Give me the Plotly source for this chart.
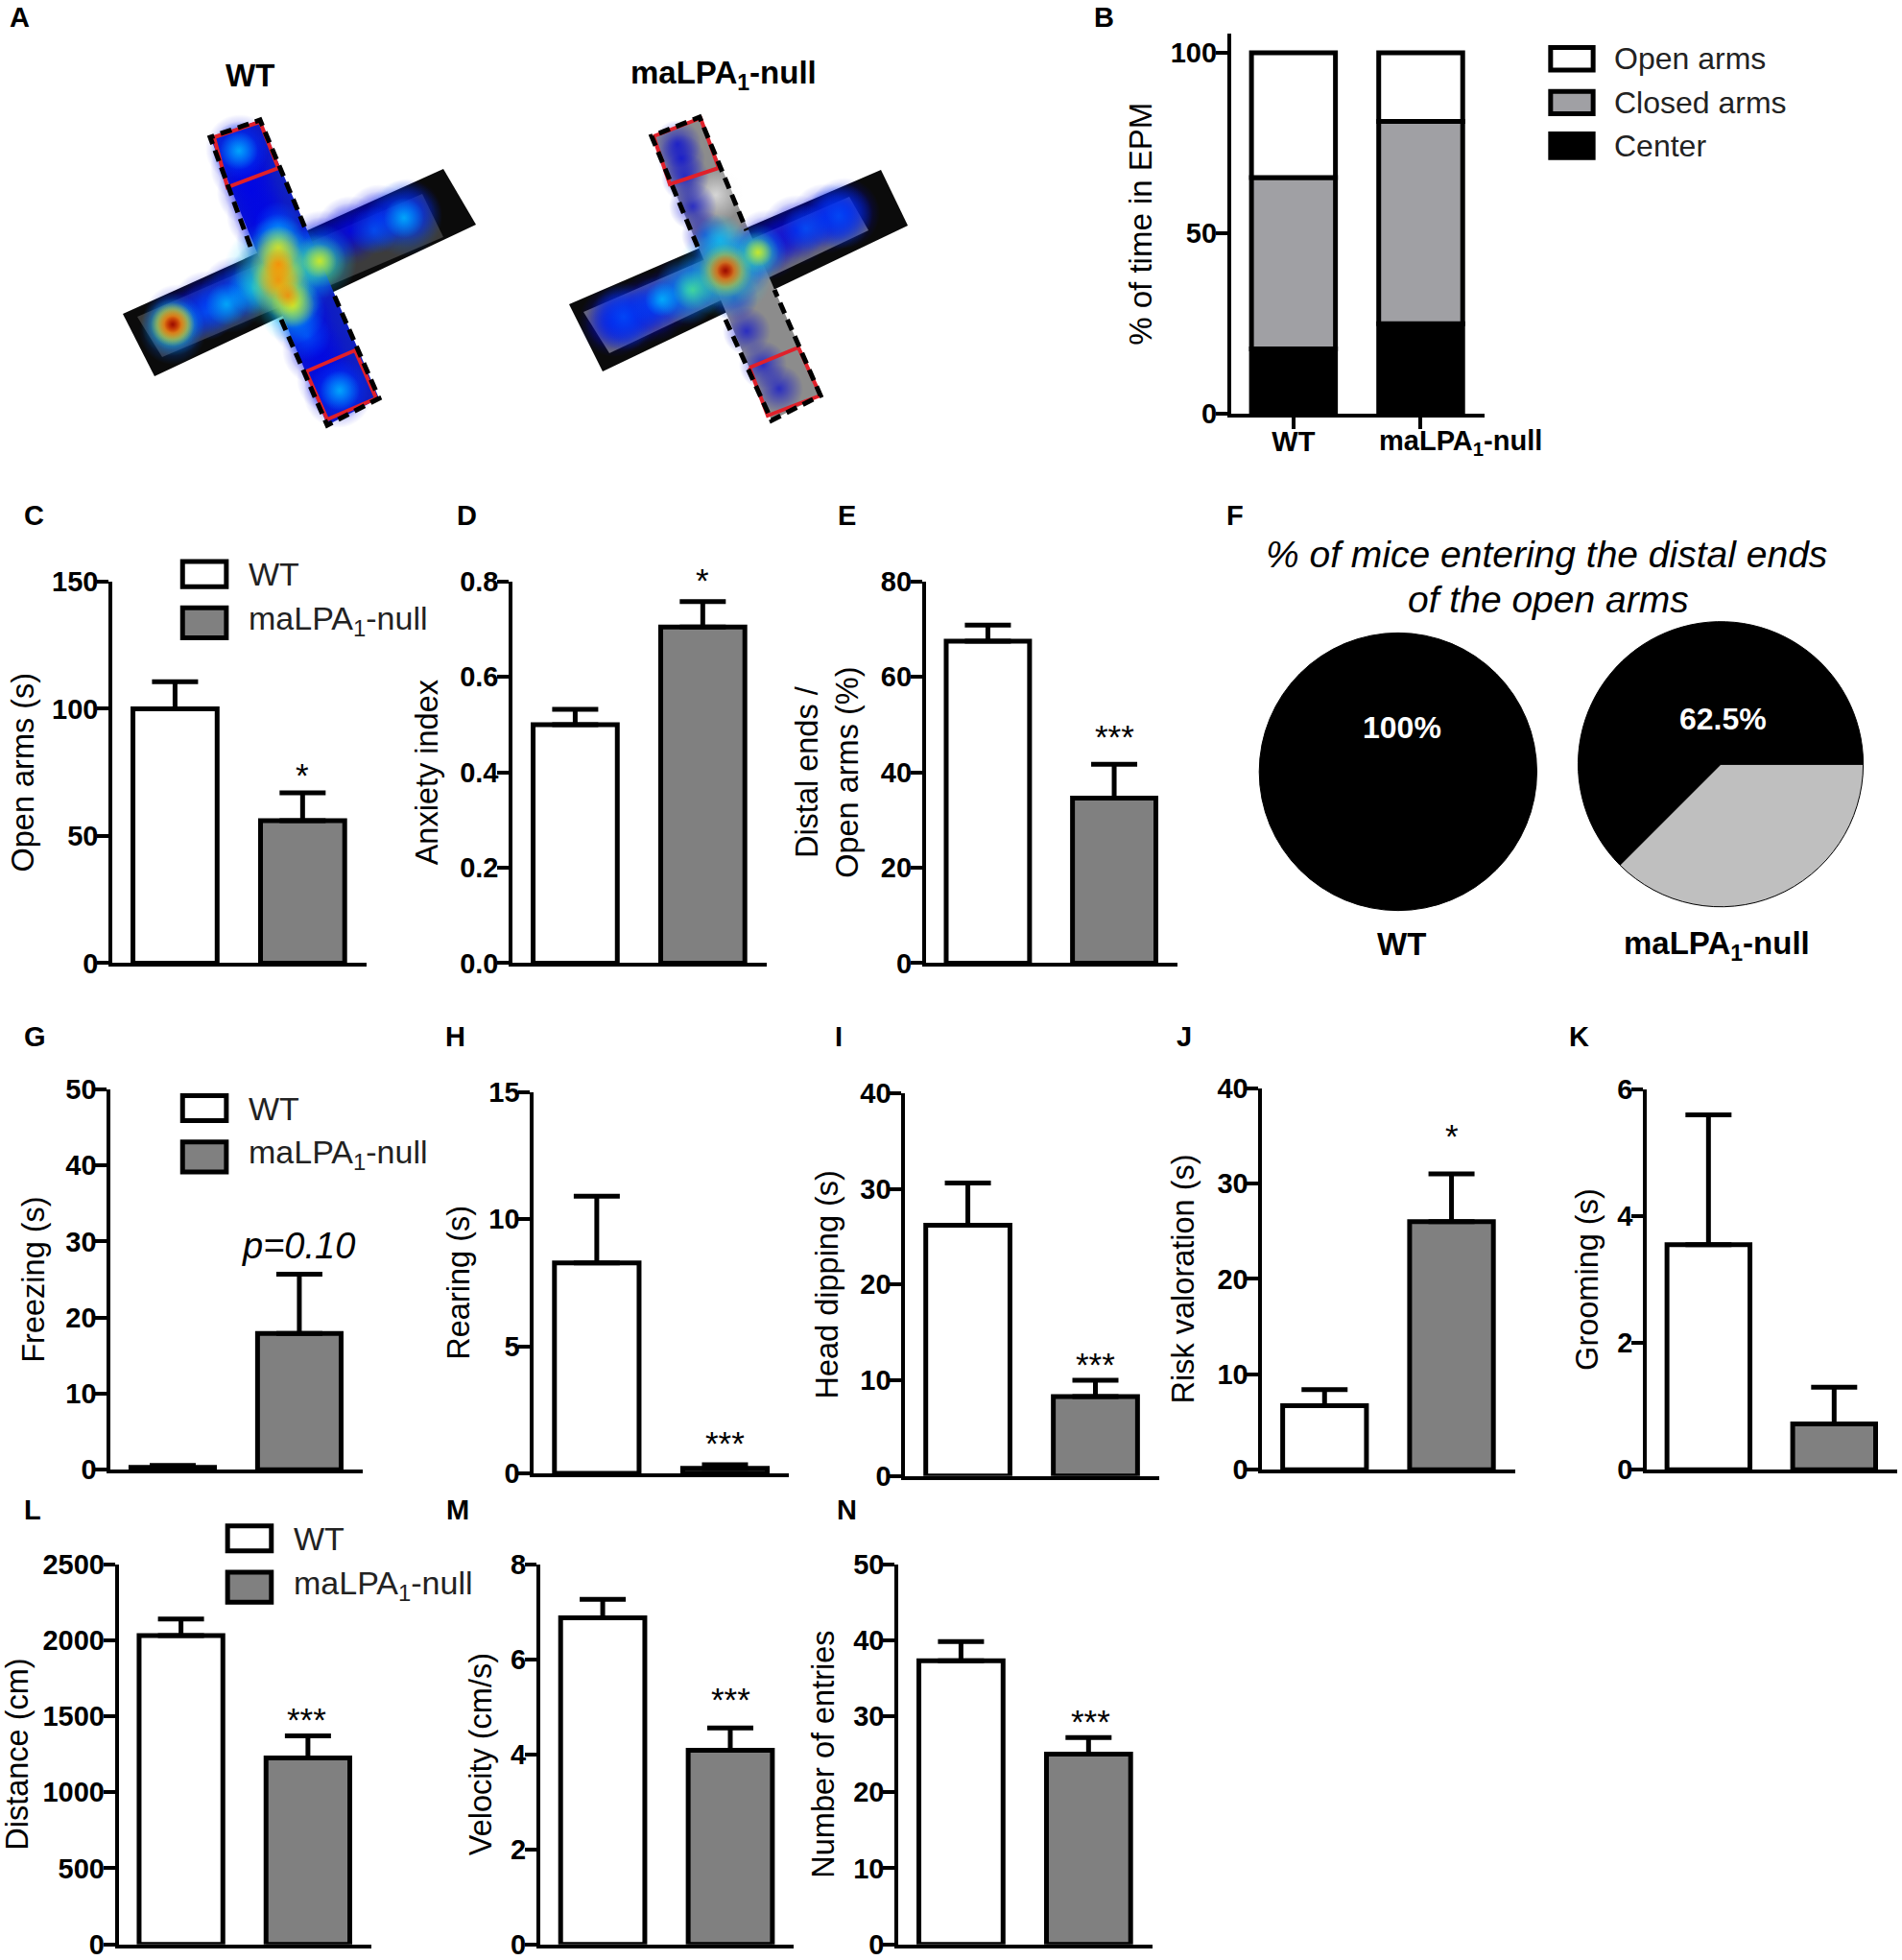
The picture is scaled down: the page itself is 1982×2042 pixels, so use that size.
import plotly.graph_objects as go

W, H = 1982, 2042
S = 1982 / 1521  # overview reading scale
FONT = "Liberation Sans"
GROUPS = ["WT", "maLPA<sub>1</sub>-null"]
NULL_LABEL = "maLPA<sub>1</sub>-null"

# ---------- data ----------
B_center = [18, 25]
B_closed = [47.5, 56]
B_open = [34.5, 19]

C_values = [100, 56]
C_errors = [10.6, 10.9]
C_ticks = [0, 50, 100, 150]
D_values = [0.5, 0.705]
D_errors = [0.032, 0.053]
D_ticks = [0.0, 0.2, 0.4, 0.6, 0.8]
E_values = [67.5, 34.6]
E_errors = [3.4, 7.1]
E_ticks = [0, 20, 40, 60, 80]
G_values = [0.3, 17.9]
G_errors = [0.25, 7.8]
G_ticks = [0, 10, 20, 30, 40, 50]
H_values = [8.28, 0.2]
H_errors = [2.62, 0.14]
H_ticks = [0, 5, 10, 15]
I_values = [26.2, 8.3]
I_errors = [4.4, 1.7]
I_ticks = [0, 10, 20, 30, 40]
J_values = [6.7, 26]
J_errors = [1.7, 5]
J_ticks = [0, 10, 20, 30, 40]
K_values = [3.55, 0.72]
K_errors = [2.05, 0.58]
K_ticks = [0, 2, 4, 6]
L_values = [2030, 1225]
L_errors = [108, 145]
L_ticks = [0, 500, 1000, 1500, 2000, 2500]
M_values = [6.87, 4.08]
M_errors = [0.39, 0.47]
M_ticks = [0, 2, 4, 6, 8]
N_values = [37.3, 25]
N_errors = [2.5, 2.2]
N_ticks = [0, 10, 20, 30, 40, 50]

F_wt = [100]
F_null = [37.5, 62.5]

# Panel A illustration, page pixels
WT_closed_outer = [(128, 327), (161, 392), (496, 234), (462, 176)]
WT_closed_floor = [(143, 330), (169, 372), (462, 247), (440, 202)]
WT_open = [(219, 143), (271, 125), (395, 415), (341, 443)]
WT_box_top = [(223, 143), (237, 195), (290, 175), (271, 127)]
WT_box_bot = [(319, 387), (341, 437), (392, 415), (370, 365)]
WT_dash = [[(261, 257), (219, 143), (271, 125), (319, 240)], [(293, 333), (341, 443), (395, 415), (348, 307)]]
WT_blue = [(185, 332), (215, 318), (245, 303), (275, 288), (305, 270), (335, 255), (365, 240), (395, 228), (425, 222),
           (250, 155), (255, 175), (262, 200), (272, 225), (282, 250), (292, 275), (305, 305), (318, 335), (330, 365), (345, 395), (352, 410)]
WT_mid = [(249, 157, 60), (354, 405, 62), (421, 227, 80), (390, 240, 50), (215, 325, 60), (240, 312, 70), (180, 345, 70), (290, 235, 50), (320, 350, 50)]
WT_cyan = [(249, 157, 40), (354, 407, 42), (421, 227, 42), (180, 338, 66), (236, 317, 44), (265, 300, 55), (290, 250, 55), (333, 272, 78), (305, 325, 68), (290, 285, 115)]
WT_green = [(290, 283, 92), (333, 272, 56), (305, 315, 56), (180, 338, 54)]
WT_yellow = [(290, 258, 46), (290, 278, 60), (292, 298, 62), (305, 318, 46), (333, 272, 36), (180, 338, 46), (180, 338, 46)]
WT_orange = [(290, 275, 34), (290, 292, 44), (300, 308, 26), (180, 338, 40)]
WT_red = [(180, 338, 32)]
WT_dark = [(180, 338, 18)]

NU_closed_outer = [(593, 317), (628, 387), (946, 235), (918, 177)]
NU_closed_floor = [(608, 325), (635, 368), (905, 240), (885, 205)]
NU_open = [(679, 142), (729, 122), (855, 412), (804, 438)]
NU_box_top = [(681, 142), (698, 192), (749, 175), (730, 123)]
NU_box_bot = [(781, 383), (800, 433), (855, 412), (832, 362)]
NU_dash = [[(727, 257), (679, 142), (729, 122), (778, 240)], [(756, 333), (804, 438), (855, 412), (807, 302)]]
NU_patch = [(746, 203, 58)]
NU_blue_closed = [(640, 335), (655, 330), (680, 320), (710, 305), (740, 290), (770, 275), (800, 255), (830, 240), (860, 228), (880, 222)]
NU_blue_open = [(706, 150), (710, 165), (714, 185), (722, 215), (735, 245), (748, 270), (765, 310), (778, 345), (795, 380), (812, 405)]
NU_mid = [(650, 330, 70), (685, 315, 55), (874, 225, 70), (840, 238, 50)]
NU_cyan = [(756, 282, 100), (790, 263, 60), (717, 302, 72), (750, 250, 55), (690, 312, 36)]
NU_green = [(756, 285, 72), (790, 263, 44), (722, 302, 42)]
NU_yellow = [(756, 282, 56), (790, 263, 30)]
NU_orange = [(756, 282, 44)]
NU_red = [(756, 282, 34)]
NU_dark = [(756, 282, 18)]

# ---------- layout table (overview pixels) ----------
BAR_PANELS = [
    # values, errors, ticks, fmt, axis-left, axis-right, y-zero, y-top, title, title standoff
    (C_values, C_errors, C_ticks, "d", 90, 293, 770, 465, "Open arms (s)", 10),
    (D_values, D_errors, D_ticks, ".1f", 410, 613, 770, 465, "Anxiety index", 14),
    (E_values, E_errors, E_ticks, "d", 740.5, 941.5, 770, 465, "Distal ends /<br>Open arms (%)", 14),
    (G_values, G_errors, G_ticks, "d", 88.5, 290, 1175, 871, "Freezing (s)", 13),
    (H_values, H_errors, H_ticks, "d", 427, 631, 1178, 873, "Rearing (s)", 11),
    (I_values, I_errors, I_ticks, "d", 724, 927, 1180, 874, "Head dipping (s)", 14),
    (J_values, J_errors, J_ticks, "d", 1009.5, 1211.5, 1175, 870, "Risk valoration (s)", 15),
    (K_values, K_errors, K_ticks, "d", 1317, 1517, 1175, 871, "Grooming (s)", 11),
    (L_values, L_errors, L_ticks, "d", 95, 297, 1554.5, 1250.5, "Distance (cm)", 17),
    (M_values, M_errors, M_ticks, "d", 432, 635, 1554.5, 1250.5, "Velocity (cm/s)", 11),
    (N_values, N_errors, N_ticks, "d", 718.5, 921.5, 1554.5, 1250.5, "Number of entries", 11),
]

GRAY = "#808080"
BAR_W = 0.66
fig = go.Figure()
layout = dict(
    width=W, height=H, margin=dict(l=0, r=0, t=0, b=0, autoexpand=False), autosize=False,
    paper_bgcolor="white", plot_bgcolor="rgba(0,0,0,0)", showlegend=False,
    font=dict(family=FONT, color="black"), barmode="overlay",
)
annotations, shapes = [], []


def text(x, y, s, size=30, bold=False, italic=False, color="black", angle=0, anchor="center"):
    t = f"<b>{s}</b>" if bold else s
    t = f"<i>{t}</i>" if italic else t
    annotations.append(dict(xref="paper", yref="paper", x=x * S / W, y=1 - y * S / H, text=t, showarrow=False,
                            font=dict(size=size, color=color, family=FONT), textangle=angle,
                            xanchor=anchor, yanchor="middle"))


def box(x0, y0, x1, y1, fill):
    shapes.append(dict(type="rect", xref="paper", yref="paper", x0=x0 * S / W, x1=x1 * S / W,
                       y0=1 - y0 * S / H, y1=1 - y1 * S / H, fillcolor=fill, line=dict(color="black", width=5)))


def axes(n, xl, xr, y0, yt, rng, ticks, fmt, title, standoff, xticks=False, title_size=32.5):
    sx, sy = "" if n == 1 else str(n), "" if n == 1 else str(n)
    layout["xaxis" + sx] = dict(
        domain=[xl * S / W, xr * S / W], anchor="y" + sy, type="category", categoryorder="array",
        categoryarray=GROUPS, range=[-0.49, 1.5], showgrid=False, zeroline=False, showline=True, automargin=False,
        linecolor="black", linewidth=4, ticks="outside" if xticks else "", ticklen=12, tickwidth=4,
        tickcolor="black", showticklabels=xticks, tickmode="array", tickvals=GROUPS, tickangle=0,
        ticktext=["WT", ""], ticklabelstandoff=-12, tickfont=dict(size=29, family=FONT, weight=700))
    layout["yaxis" + sy] = dict(
        domain=[1 - y0 * S / H, 1 - yt * S / H], anchor="x" + sx, range=rng, tickmode="array", tickvals=ticks,
        ticktext=[format(v, fmt) for v in ticks], showgrid=False, zeroline=False, showline=True, automargin=False,
        linecolor="black", linewidth=4, ticks="outside", ticklen=12, tickwidth=4, tickcolor="black",
        ticklabelstandoff=-7, ticklabeloverflow="allow", tickfont=dict(size=29, family=FONT, weight=700),
        title=dict(text=title, standoff=standoff, font=dict(size=title_size, family=FONT)))


# ---------- panel B ----------
axes(1, 984.5, 1187, 331, 27, [0, 105.3], [0, 50, 100], "d", "% of time in EPM", 10, xticks=True, title_size=33)
base_closed = B_center
base_open = [a + b for a, b in zip(B_center, B_closed)]
for vals, base, col, name in [(B_center, [0, 0], "black", "Center"), (B_closed, base_closed, "#a0a0a4", "Closed arms"),
                              (B_open, base_open, "white", "Open arms")]:
    fig.add_trace(go.Bar(x=GROUPS, y=vals, base=base, width=BAR_W, name=name, xaxis="x", yaxis="y",
                         marker=dict(color=col, line=dict(color="black", width=5))))

# ---------- bar panels ----------
for i, (vals, errs, ticks, fmt, xl, xr, y0, yt, title, standoff) in enumerate(BAR_PANELS):
    n = i + 2
    axes(n, xl, xr, y0, yt, [0, ticks[-1]], ticks, fmt, title, standoff)
    fig.add_trace(go.Bar(
        x=GROUPS, y=vals, width=BAR_W, xaxis=f"x{n}", yaxis=f"y{n}",
        marker=dict(color=["white", GRAY], line=dict(color="black", width=5)),
        error_y=dict(type="data", symmetric=False, array=errs, arrayminus=[0, 0], color="black", thickness=5, width=24)))

# ---------- pies ----------
def pie_domain(cx, cy, r):
    return dict(x=[(cx - r) * S / W, (cx + r) * S / W], y=[1 - (cy + r) * S / H, 1 - (cy - r) * S / H])


fig.add_trace(go.Pie(values=F_wt, labels=["Entered"], domain=pie_domain(1118, 617, 111), textinfo="none", sort=False,
                     marker=dict(colors=["black"], line=dict(color="black", width=1))))
fig.add_trace(go.Pie(values=F_null, labels=["Did not enter", "Entered"], domain=pie_domain(1376, 611, 114), textinfo="none",
                     sort=False, rotation=90, direction="clockwise",
                     marker=dict(colors=["#bfbfbf", "black"], line=dict(color="black", width=1))))

# ---------- panel A (page-pixel overlay axis over the top band only) ----------
BAND = 480
layout["xaxis20"] = dict(domain=[0, 1000 / W], range=[0, 1000], visible=False, anchor="y20", fixedrange=True, automargin=False)
layout["yaxis20"] = dict(domain=[1 - BAND / H, 1], range=[BAND, 0], visible=False, anchor="x20", fixedrange=True, automargin=False)


def poly(pts, fill=None, line=None, width=0, dash=None, close=True):
    tail = [pts[0]] if close else []
    xs = [p[0] for p in pts + tail]
    ys = [p[1] for p in pts + tail]
    fig.add_trace(go.Scatter(x=xs, y=ys, mode="lines", xaxis="x20", yaxis="y20", hoverinfo="skip",
                             fill="toself" if fill else "none", fillcolor=fill,
                             line=dict(color=line or "rgba(0,0,0,0)", width=width, dash=dash)))


def blobs(pts, rgb, size=None):
    xs = [p[0] for p in pts]
    ys = [p[1] for p in pts]
    sz = [size or p[2] for p in pts]
    # gradient.color is the centre colour of a radial fill
    fig.add_trace(go.Scatter(x=xs, y=ys, mode="markers", xaxis="x20", yaxis="y20", hoverinfo="skip",
                             marker=dict(size=sz, color=f"rgba({rgb},0)", line=dict(width=0),
                                         gradient=dict(type="radial", color=f"rgba({rgb},1)"))))


HOT = ["0,95,255", "0,205,255", "90,240,120", "255,235,0", "255,120,0", "225,0,0", "120,0,0"]
DASH = "12px,7px"

# WT
poly(WT_closed_outer, fill="#0b0b0b")
poly(WT_closed_floor, fill="#3c3c3c")
poly(WT_open, fill="#1020c0")
blobs(WT_blue, "0,5,230", size=72)
blobs(WT_blue, "0,5,230", size=58)
for pts, rgb in zip([WT_mid, WT_cyan, WT_green, WT_yellow, WT_orange, WT_red, WT_dark], HOT):
    blobs(pts, rgb)
poly(WT_box_top, line="#e0202a", width=4)
poly(WT_box_bot, line="#e0202a", width=4)
for seg in WT_dash:
    poly(seg, line="black", width=5, dash=DASH, close=False)

# null
poly(NU_closed_outer, fill="#0b0b0b")
poly(NU_closed_floor, fill="#707070")
poly(NU_open, fill="#8c8c8c")
blobs(NU_patch, "245,245,245")
blobs(NU_blue_closed, "0,5,230", size=74)
blobs(NU_blue_closed, "0,5,230", size=60)
blobs(NU_blue_open, "0,5,215", size=50)
for pts, rgb in zip([NU_mid, NU_cyan, NU_green, NU_yellow, NU_orange, NU_red, NU_dark], HOT):
    blobs(pts, rgb)
poly(NU_box_top, line="#e0202a", width=4)
poly(NU_box_bot, line="#e0202a", width=4)
for seg in NU_dash:
    poly(seg, line="black", width=5, dash=DASH, close=False)

# ---------- texts ----------
for s, x, y in [("A", 16, 14), ("B", 883, 14), ("C", 27, 412), ("D", 373, 412), ("E", 677, 412), ("F", 988, 412),
                ("G", 28, 829), ("H", 364, 829), ("I", 671, 829), ("J", 947, 829), ("K", 1263, 829),
                ("L", 26, 1207), ("M", 366, 1207), ("N", 677, 1207)]:
    text(x, y, s, size=29, bold=True)

text(200, 60, "WT", size=33, bold=True)
text(579, 60, NULL_LABEL, size=33, bold=True)
text(1168, 354, NULL_LABEL, size=29, bold=True)

for s, x, y in [("*", 242, 620), ("*", 562, 464), ("***", 891, 589), ("***", 580, 1154), ("***", 876, 1091),
                ("*", 1161, 908), ("***", 245, 1375), ("***", 584, 1359), ("***", 872, 1376)]:
    text(x, y, s, size=35)

text(239, 996, "p=0.10", size=38, italic=True)
text(1237, 443, "% of mice entering the distal ends", size=39, italic=True)
text(1238, 479, "of the open arms", size=39, italic=True)
text(1121, 582, "100%", size=32, bold=True, color="white")
text(1378, 575, "62.5%", size=32, bold=True, color="white")
text(1121, 755, "WT", size=33, bold=True)
text(1373, 756, NULL_LABEL, size=33, bold=True)

# ---------- legends ----------
for y0, y1, fill, s, ty in [(38, 56, "white", "Open arms", 47), (73, 91, "#a0a0a4", "Closed arms", 82), (107, 126, "black", "Center", 117)]:
    box(1240, y0, 1274, y1, fill)
    text(1289, ty, s, size=32, color="#222222", anchor="left")
for lx, ty0, ty1 in [(146, 459, 497), (146, 886, 924), (182, 1230, 1268)]:
    box(lx, ty0 - 10, lx + 35, ty0 + 10, "white")
    box(lx, ty1 - 11, lx + 35, ty1 + 13, GRAY)
    text(lx + 51, ty0, "WT", size=34, color="#222222", anchor="left")
    text(lx + 51, ty1 - 1, NULL_LABEL, size=34, color="#222222", anchor="left")

layout["annotations"] = annotations
layout["shapes"] = shapes
fig.update_layout(**layout)
fig.write_html("out.html", config=dict(displayModeBar=False),
               post_script="document.body.style.margin='0';document.body.style.overflow='hidden';")
